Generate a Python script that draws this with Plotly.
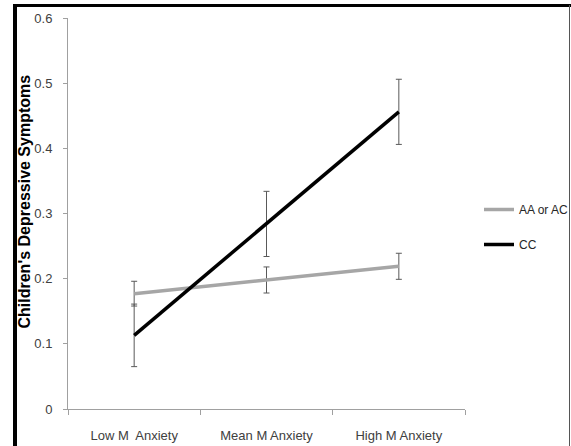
import plotly.graph_objects as go

categories = ["Low M\u00a0 Anxiety", "Mean M Anxiety", "High M Anxiety"]
aa_ac = [0.177, 0.198, 0.219]
aa_ac_err = [0.019, 0.02, 0.02]
cc = [0.113, 0.284, 0.456]
cc_err = [0.048, 0.05, 0.05]
y_ticks = [0, 0.1, 0.2, 0.3, 0.4, 0.5, 0.6]
y_tick_text = ["0", "0.1", "0.2", "0.3", "0.4", "0.5", "0.6"]
y_title = "Children's Depressive Symptoms"

W, H = 571, 446
ML, MR, MT, MB = 68, 106, 18, 37
PW, PH = W - ML - MR, H - MT - MB
FONT = "Liberation Sans, Arial, sans-serif"

fig = go.Figure()
fig.add_trace(go.Scatter(
    x=categories, y=aa_ac, name="AA or AC", mode="lines", legend="legend",
    line=dict(color="#a6a6a6", width=3.5),
    error_y=dict(type="data", array=aa_ac_err, visible=True, color="#595959", thickness=1, width=3),
))
fig.add_trace(go.Scatter(
    x=categories, y=cc, name="CC", mode="lines", legend="legend2",
    line=dict(color="#000000", width=3.5),
    error_y=dict(type="data", array=cc_err, visible=True, color="#595959", thickness=1, width=3),
))

def px_x(p):
    return (p - ML) / PW

def px_y(p):
    return (H - MB - p) / PH

shapes = [
    dict(type="line", xref="paper", yref="paper", x0=px_x(15), x1=px_x(15), y0=px_y(4), y1=px_y(446),
         line=dict(color="black", width=4)),
    dict(type="line", xref="paper", yref="paper", x0=px_x(13), x1=px_x(571), y0=px_y(5.5), y1=px_y(5.5),
         line=dict(color="black", width=3)),
    dict(type="line", xref="paper", yref="paper", x0=px_x(569.5), x1=px_x(569.5), y0=px_y(5), y1=px_y(446),
         line=dict(color="#555555", width=1)),
]

leg_common = dict(xanchor="left", yanchor="top", font=dict(family=FONT, size=12, color="#262626"),
                  bgcolor="rgba(0,0,0,0)", itemwidth=30)

fig.update_layout(
    width=W, height=H,
    margin=dict(l=ML, r=MR, t=MT, b=MB, pad=0, autoexpand=False),
    paper_bgcolor="white", plot_bgcolor="white",
    font=dict(family=FONT, size=13, color="#404040"),
    showlegend=True,
    legend=dict(x=px_x(479), y=px_y(195), **leg_common),
    legend2=dict(x=px_x(479), y=px_y(230), **leg_common),
    shapes=shapes,
    annotations=[dict(
        text="<b>" + y_title + "</b>", textangle=-90, showarrow=False,
        xref="paper", yref="paper", x=px_x(23.5), y=px_y(202),
        xanchor="center", yanchor="middle",
        font=dict(family=FONT, size=16, color="#000000"),
    )],
    xaxis=dict(
        type="category", showgrid=False, zeroline=False,
        showline=True, linecolor="#a0a0a0", linewidth=1,
        ticks="outside", tickson="boundaries", ticklen=5, tickcolor="#a0a0a0",
        ticklabelstandoff=14,
        range=[-0.5, 2.5],
    ),
    yaxis=dict(
        range=[0, 0.6], tickvals=y_ticks, ticktext=y_tick_text,
        showgrid=False, zeroline=False,
        showline=True, linecolor="#a0a0a0", linewidth=1,
        ticks="outside", ticklen=4, tickcolor="#a0a0a0",
        ticklabelstandoff=8,
    ),
)

fig.write_html("out.html")
